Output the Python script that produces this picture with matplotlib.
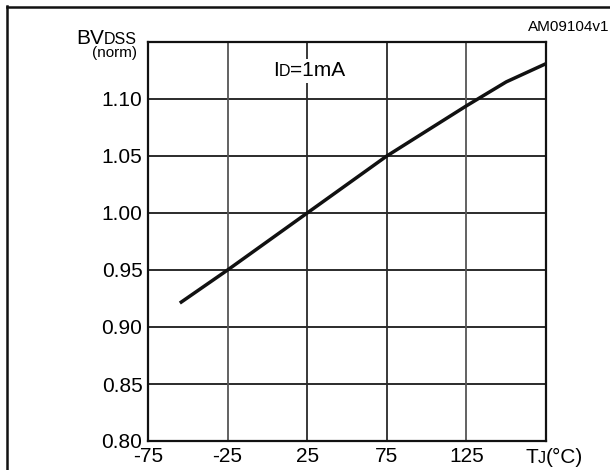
import matplotlib
matplotlib.use('Agg')
import matplotlib.pyplot as plt
from matplotlib.lines import Line2D
from matplotlib.offsetbox import TextArea, HPacker, AnnotationBbox

plt.rcParams['font.family'] = ['Liberation Sans', 'DejaVu Sans']

# data
tj = [-55, -25, 25, 75, 125, 150, 175]
bvdss = [0.921, 0.95, 1.00, 1.05, 1.094, 1.115, 1.131]
xticks = [-75, -25, 25, 75, 125]
yticks = [0.80, 0.85, 0.90, 0.95, 1.00, 1.05, 1.10]

big = 15
small = 11.5

fig = plt.figure(figsize=(6.1, 4.7), dpi=100)
ax = fig.add_axes([148 / 610, 1 - 441 / 470, 398 / 610, 399 / 470])

ax.plot(tj, bvdss, color='#111111', lw=2.5, solid_capstyle='butt', zorder=3)

ax.set_xlim(-75, 175)
ax.set_ylim(0.80, 1.15)
ax.set_xticks(xticks + [175])
ax.set_xticklabels([str(t) for t in xticks] + [''], fontsize=big)
ax.set_yticks(yticks)
ax.set_yticklabels(['%.2f' % v for v in yticks], fontsize=big)
ax.tick_params(length=0, pad=4)
ax.tick_params(axis='x', pad=4.5)

for v in yticks[1:]:
    ax.axhline(v, color='#1a1a1a', lw=1.3, zorder=1)
for t in xticks[1:]:
    ax.axvline(t, color='#555555' if t in (-25, 125) else '#2a2a2a', lw=1.3, zorder=1)

for s in ax.spines.values():
    s.set_linewidth(1.6)
    s.set_color('#111111')


def label(parts, xy, box_align):
    # pieces of text of different sizes on one baseline
    areas = [TextArea(t, textprops=dict(fontsize=sz, color='black')) for t, sz in parts]
    pack = HPacker(children=areas, align='baseline', pad=0, sep=0)
    return AnnotationBbox(pack, xy, xycoords='figure fraction', box_alignment=box_align,
                          frameon=False, pad=0, annotation_clip=False)


# y axis title
fig.add_artist(label([('BV', big), ('DSS', small)], (137 / 610, 1 - 38 / 470), (1.0, 0.5)))
fig.text(137 / 610, 1 - 53 / 470, '(norm)', fontsize=11, ha='right', va='center')

# x axis title at the last tick position
fig.add_artist(label([('T', big), ('J', small), ('(°C)', big)], (554 / 610, 1 - 457 / 470), (0.5, 0.5)))

# condition text inside plot
cond = AnnotationBbox(
    HPacker(children=[TextArea('I', textprops=dict(fontsize=big)),
                      TextArea('D', textprops=dict(fontsize=small)),
                      TextArea('=1mA', textprops=dict(fontsize=big))],
            align='baseline', pad=0, sep=0),
    (273 / 610, 1 - 71 / 470), xycoords='figure fraction', box_alignment=(0.0, 0.5),
    frameon=True, pad=0.15, bboxprops=dict(facecolor='white', edgecolor='none'),
    annotation_clip=False, zorder=4)
fig.add_artist(cond)

fig.text(609 / 610, 1 - 27 / 470, 'AM09104v1', fontsize=11, ha='right', va='center')

# outer frame (left and top edges)
fig.add_artist(Line2D([6.5 / 610, 6.5 / 610], [0, 1 - 6 / 470], color='#111111', lw=1.8,
                      transform=fig.transFigure, solid_capstyle='projecting'))
fig.add_artist(Line2D([6.5 / 610, 1], [1 - 7 / 470, 1 - 7 / 470], color='#111111', lw=1.8,
                      transform=fig.transFigure))

fig.savefig('out.png', dpi=100)
